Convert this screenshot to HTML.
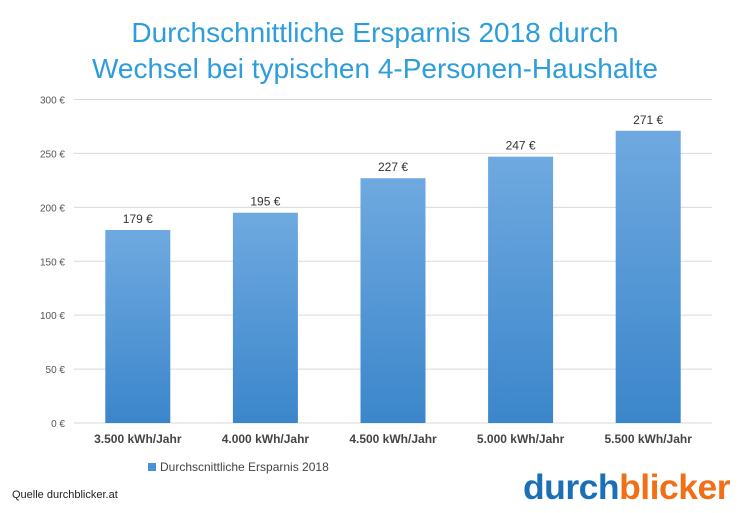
<!DOCTYPE html>
<html><head><meta charset="utf-8"><style>
body{margin:0;width:750px;height:513px;background:#fff;overflow:hidden;font-family:"Liberation Sans",sans-serif;}
#title{position:absolute;top:15px;left:0;width:750px;text-align:center;color:#2d9ddb;font-size:28px;line-height:36px;}
#src{position:absolute;left:12px;top:489px;font-size:11px;color:#222;}
#logo{position:absolute;left:523px;top:469px;font-size:35.5px;font-weight:bold;letter-spacing:-0.5px;line-height:36px;}
</style></head><body>
<div id="title">Durchschnittliche Ersparnis 2018 durch<br>Wechsel bei typischen 4-Personen-Haushalte</div>
<svg id="chart" width="750" height="513" style="position:absolute;left:0;top:0">
<defs><linearGradient id="g" x1="0" y1="0" x2="0" y2="1"><stop offset="0" stop-color="#6fa9e0"/><stop offset="1" stop-color="#3b86cb"/></linearGradient></defs>
</svg>
<div id="src">Quelle durchblicker.at</div>
<div id="logo"><span style="color:#1a6fb6">durch</span><span style="color:#f07018">blicker</span></div>
<script>
const categories=["3.500 kWh/Jahr","4.000 kWh/Jahr","4.500 kWh/Jahr","5.000 kWh/Jahr","5.500 kWh/Jahr"];
const values=[179,195,227,247,271];
const ticks=[0,50,100,150,200,250,300];
const svg=document.getElementById('chart');
const NS="http://www.w3.org/2000/svg";
const x0=74,x1=712,y0=423,yTop=99.5,maxV=300;
const y=v=>y0-(v/maxV)*(y0-yTop);
const band=(x1-x0)/categories.length;
function mk(t,a){const e=document.createElementNS(NS,t);for(const k in a)e.setAttribute(k,a[k]);svg.appendChild(e);return e;}
ticks.forEach(t=>{
 const l=mk('line',{x1:x0,x2:x1,y1:y(t),y2:y(t),stroke:'#d9d9d9','stroke-width':1});
 
 
 const tx=mk('text',{x:65,y:y(t)+4,'text-anchor':'end','font-size':10,fill:'#555'});
 tx.textContent=t+' €';
 
 
});
values.forEach((v,i)=>{
 const cx=x0+band*(i+0.5),w=65;
 const r=mk('rect',{x:cx-w/2,y:y(v),width:w,height:y0-y(v),fill:'url(#g)'});
 
 
 const t=mk('text',{x:cx,y:y(v)-7,'text-anchor':'middle','font-size':12,fill:'#333'});
 t.textContent=v+' €';
 
 
 const c=mk('text',{x:cx,y:443,'text-anchor':'middle','font-size':12,'font-weight':'bold',fill:'#444'});
 c.textContent=categories[i];
 
 
});
const ls=mk('rect',{x:148,y:463,width:8,height:8,fill:'#4a90d6'});


const lt=mk('text',{x:160,y:471,'font-size':12,fill:'#444'});
lt.textContent='Durchscnittliche Ersparnis 2018';


</script>
</body></html>
